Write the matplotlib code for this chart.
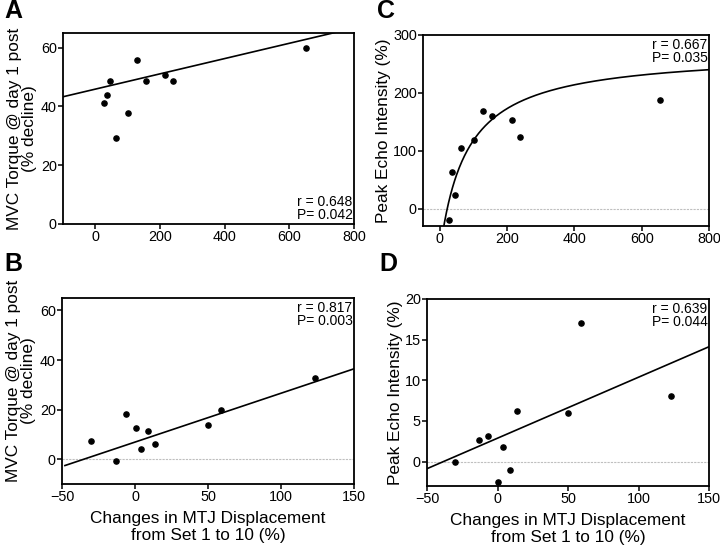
import numpy as np
import matplotlib
matplotlib.use('Agg')
import matplotlib.pyplot as plt

plt.rcParams['font.family'] = ['Liberation Sans', 'DejaVu Sans']

# displacement values used in A and C (%)
disp_ac = [26, 35, 46, 63, 102, 129, 156, 215, 239, 653]
mvc_a = [41.2, 43.8, 48.8, 29.2, 37.8, 55.8, 48.8, 50.8, 48.8, 59.8]
echo_c = [-19, 63, 24, 104, 118, 169, 160, 153, 124, 187]

# changes in MTJ displacement set 1 to 10 (%), B and D
disp_bd = [-30.4, -13.3, -6.4, 0.6, 3.8, 9.0, 14.0, 50.1, 59.1, 123.2]
mvc_b = [7.5, -0.9, 18.4, 12.7, 4.2, 11.4, 6.2, 13.9, 19.8, 32.8]
echo_d = [0.0, 2.7, 3.2, -2.45, 1.8, -1.0, 6.2, 6.0, 17.05, 8.1]

# fitted lines
fit_a = (0.026, 45.9)
fit_b = (0.197, 6.9)
fit_d = (0.075, 2.88)
fit_c = (271.3, 101.3, 22.0)  # ymax, K, x0 (hyperbola)

stats = {'A': ('0.648', '0.042'), 'B': ('0.817', '0.003'),
         'C': ('0.667', '0.035'), 'D': ('0.639', '0.044')}

W, H = 720, 548
fig = plt.figure(figsize=(7.2, 5.48), dpi=100)


def box(l, r, t, b):
    return [l / W, 1 - b / H, (r - l) / W, (b - t) / H]


axA = fig.add_axes(box(63, 354, 33, 224))
axC = fig.add_axes(box(423, 709, 35, 226))
axB = fig.add_axes(box(62, 354, 298, 484))
axD = fig.add_axes(box(427, 709, 299, 486))


def style(ax):
    for s in ax.spines.values():
        s.set_linewidth(1.3)
    ax.tick_params(direction='out', length=3.5, width=1.1, labelsize=10.4, pad=1)


def stat_text(ax, key, top=True):
    r, p = stats[key]
    if top:
        ax.text(0.995, 0.985, 'r = %s\nP= %s' % (r, p), transform=ax.transAxes,
                ha='right', va='top', fontsize=10, linespacing=0.9)
    else:
        ax.text(0.995, 0.01, 'r = %s\nP= %s' % (r, p), transform=ax.transAxes,
                ha='right', va='bottom', fontsize=10, linespacing=0.9)


def zero_line(ax):
    ax.axhline(0, color='0.75', lw=0.8, ls=(0, (2, 1)), zorder=0)


ylab_mvc = 'MVC Torque @ day 1 post\n(% decline)'
ylab_echo = 'Peak Echo Intensity (%)'
xlab = 'Changes in MTJ Displacement\nfrom Set 1 to 10 (%)'

# A
xs = np.linspace(-100, 800, 50)
axA.plot(xs, fit_a[0] * xs + fit_a[1], color='black', lw=1.2)
axA.scatter(disp_ac, mvc_a, s=14, color='black', zorder=3)
axA.set_xlim(-100, 800)
axA.set_ylim(0, 65)
axA.set_xticks([0, 200, 400, 600, 800])
axA.set_yticks([0, 20, 40, 60])
axA.set_ylabel(ylab_mvc, fontsize=12.4, linespacing=1.0, labelpad=3)
stat_text(axA, 'A', top=False)
style(axA)

# C
xc = np.linspace(8, 800, 400)
ymax, K, x0 = fit_c
axC.plot(xc, ymax * (xc - x0) / (K + xc - x0), color='black', lw=1.2)
axC.scatter(disp_ac, echo_c, s=14, color='black', zorder=3)
zero_line(axC)
axC.set_xlim(-50, 800)
axC.set_ylim(-30, 300)
axC.set_xticks([0, 200, 400, 600, 800])
axC.set_yticks([0, 100, 200, 300])
axC.set_ylabel(ylab_echo, fontsize=12.4, labelpad=1)
stat_text(axC, 'C')
style(axC)

# B
xb = np.linspace(-48, 150, 50)
axB.plot(xb, fit_b[0] * xb + fit_b[1], color='black', lw=1.2)
axB.scatter(disp_bd, mvc_b, s=14, color='black', zorder=3)
zero_line(axB)
axB.set_xlim(-50, 150)
axB.set_ylim(-10, 65)
axB.set_xticks([-50, 0, 50, 100, 150])
axB.set_yticks([0, 20, 40, 60])
axB.set_ylabel(ylab_mvc, fontsize=12.4, linespacing=1.0, labelpad=3, y=0.555)
axB.set_xlabel(xlab, fontsize=12.4, linespacing=1.15, labelpad=5)
stat_text(axB, 'B')
style(axB)

# D
xd = np.linspace(-50, 150, 50)
axD.plot(xd, fit_d[0] * xd + fit_d[1], color='black', lw=1.2)
axD.scatter(disp_bd, echo_d, s=14, color='black', zorder=3)
zero_line(axD)
axD.set_xlim(-50, 150)
axD.set_ylim(-3, 20)
axD.set_xticks([-50, 0, 50, 100, 150])
axD.set_yticks([0, 5, 10, 15, 20])
axD.set_ylabel(ylab_echo, fontsize=12.4, labelpad=1)
axD.set_xlabel(xlab, fontsize=12.4, linespacing=1.15, labelpad=5)
stat_text(axD, 'D')
style(axD)

# panel letters
for lab, x, y in [('A', 4, -1), ('C', 377, -1), ('B', 4, 252), ('D', 379, 252)]:
    fig.text(x / W, 1 - y / H, lab, fontsize=18, fontweight='bold', ha='left', va='top')

fig.savefig('out.png', dpi=100)
